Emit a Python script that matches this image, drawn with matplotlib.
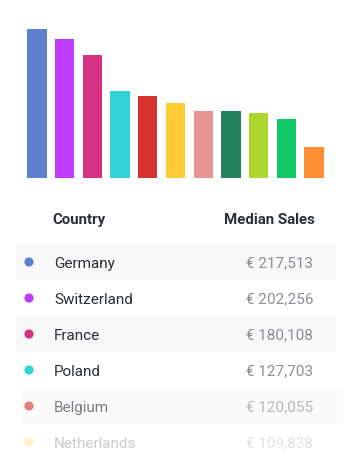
import numpy as np
import matplotlib
matplotlib.use('Agg')
import matplotlib.pyplot as plt
from matplotlib.patches import Circle, Rectangle

plt.rcParams['font.family'] = ['Roboto', 'DejaVu Sans']

# ─── Data ─────────────────────────────────────────────────────────────────────
sales = [217513, 202256, 180108, 127703, 120055, 109838,
         97800, 97600, 94900, 86100, 45300]
colors = ["#5e7ece", "#c03aff", "#d63183", "#33d2d8", "#d63230", "#ffcb33",
          "#e89496", "#24805d", "#afd62f", "#10c966", "#fd8f35"]
countries = ["Germany", "Switzerland", "France", "Poland", "Belgium", "Netherlands"]
row_alpha = [1, 1, 1, 1, 0.62, 0.25]

W, H = 352, 474
fig = plt.figure(figsize=(W / 100, H / 100), dpi=100)
fig.patch.set_facecolor("white")

# ─── Bar chart ────────────────────────────────────────────────────────────────
px_per_unit = 149 / sales[0]
ax_h = 160
ax = fig.add_axes([23 / W, (H - 178) / H, 305 / W, ax_h / H])
ax.bar(range(len(sales)), sales, width=0.7, color=colors)
ax.set_xlim(-0.5, len(sales) - 0.5)
ax.set_ylim(0, ax_h / px_per_unit)
ax.axis("off")

# ─── Table ────────────────────────────────────────────────────────────────────
tx = fig.add_axes([0, 0, 1, 1])
tx.set_xlim(0, W)
tx.set_ylim(H, 0)
tx.axis("off")

dark = "#2b2f36"
grey = "#8a8d93"
tx.text(52, 224, "Country", fontsize=10.8, fontweight="bold", color=dark,
        ha="left", va="baseline")
tx.text(315, 224, "Median Sales", fontsize=10.8, fontweight="bold", color=dark,
        ha="right", va="baseline")

for i, (name, val, a) in enumerate(zip(countries, sales, row_alpha)):
    yc = 262 + 36 * i
    shift = 6 if i == 4 else 0
    if i % 2 == 0:
        tx.add_patch(Rectangle((16 + shift, yc - 18), 320, 36,
                               facecolor="#f8f8f9", edgecolor="none", alpha=a))
    tx.add_patch(Circle((29, yc), 4.6, facecolor=colors[i], edgecolor="none", alpha=a))
    tx.text(54, yc + 5.7, name, fontsize=11, color=dark, alpha=a,
            ha="left", va="baseline")
    tx.text(313, yc + 5.7, f"€ {val:,}", fontsize=11, color=grey, alpha=a,
            ha="right", va="baseline")

plt.savefig("out.png", dpi=100)
plt.close()
